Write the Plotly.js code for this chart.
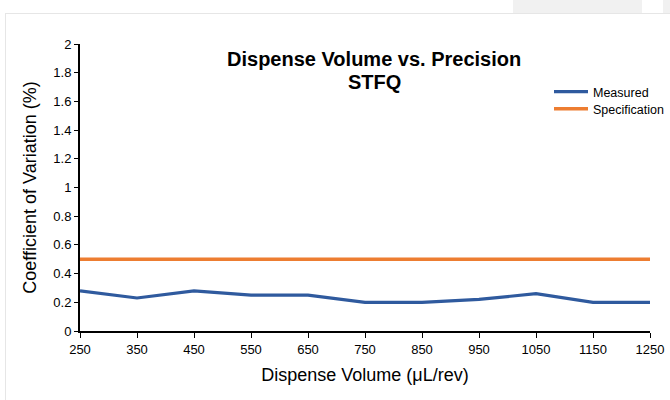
<!DOCTYPE html>
<html>
<head>
<meta charset="utf-8">
<script src="https://cdn.plot.ly/plotly-3.0.1.min.js"></script>
<style>
  html, body { margin: 0; padding: 0; background: #fff; }
  #wrap { position: relative; width: 670px; height: 400px; overflow: hidden; }
  #chart { position: absolute; left: 0; top: 0; width: 670px; height: 400px; }
  .frame-top { position: absolute; left: 5px; top: 13px; width: 665px; height: 0; border-top: 1px solid #e6e6e6; }
  .frame-left { position: absolute; left: 5px; top: 13px; width: 0; height: 387px; border-left: 1px solid #e6e6e6; }
  .tab1 { position: absolute; left: 513px; top: 0; width: 129px; height: 13px; background: #f1f1f1; }
  .tab2 { position: absolute; left: 663px; top: 0; width: 7px; height: 13px; background: #f1f1f1; }
</style>
</head>
<body>
<div id="wrap">
  <div id="chart"></div>
  <div class="frame-top"></div>
  <div class="frame-left"></div>
  <div class="tab1"></div>
  <div class="tab2"></div>
</div>
<script>
const volumes = [250, 350, 450, 550, 650, 750, 850, 950, 1050, 1150, 1250];
const measured = [0.28, 0.23, 0.28, 0.25, 0.25, 0.20, 0.20, 0.22, 0.26, 0.20, 0.20];
const specification = [0.5, 0.5, 0.5, 0.5, 0.5, 0.5, 0.5, 0.5, 0.5, 0.5, 0.5];
const yTicks = [0, 0.2, 0.4, 0.6, 0.8, 1, 1.2, 1.4, 1.6, 1.8, 2];
const yTickLabels = ['0', '0.2', '0.4', '0.6', '0.8', '1', '1.2', '1.4', '1.6', '1.8', '2'];
const titleLine1 = 'Dispense Volume vs. Precision';
const titleLine2 = 'STFQ';

const FONT = 'Liberation Sans, Arial, sans-serif';

const traces = [
  {
    x: volumes, y: measured, name: 'Measured', type: 'scatter', mode: 'lines',
    line: { color: '#2f5a9e', width: 3.2 }, legend: 'legend'
  },
  {
    x: volumes, y: specification, name: 'Specification', type: 'scatter', mode: 'lines',
    line: { color: '#ed7d31', width: 3.5 }, legend: 'legend2'
  }
];

const legendCommon = {
  xref: 'paper', xanchor: 'left', yref: 'paper', yanchor: 'middle',
  font: { family: FONT, size: 12.5, color: '#000' },
  bgcolor: 'rgba(0,0,0,0)',
  itemwidth: 34,
  borderwidth: 0
};

const layout = {
  width: 670, height: 400,
  margin: { l: 80, r: 20, t: 44, b: 69, autoexpand: false },
  paper_bgcolor: '#ffffff',
  plot_bgcolor: '#ffffff',
  font: { family: FONT, color: '#000' },
  title: {
    text: '<b>' + titleLine1 + '</b>',
    font: { family: FONT, size: 20, color: '#000' },
    x: 0.516, xref: 'paper', xanchor: 'center',
    y: 1 - 59 / 400, yref: 'container', yanchor: 'middle'
  },
  annotations: [{
    text: '<b>' + titleLine2 + '</b>',
    font: { family: FONT, size: 20, color: '#000' },
    x: 0.5175, xref: 'paper', xanchor: 'center',
    y: (331 - 82) / 287, yref: 'paper', yanchor: 'middle',
    showarrow: false
  }],
  showlegend: true,
  legend: Object.assign({}, legendCommon, { x: (549 - 80) / 570, y: (331 - 92) / 287 }),
  legend2: Object.assign({}, legendCommon, { x: (549 - 80) / 570, y: (331 - 109) / 287 }),
  xaxis: {
    range: [250, 1250],
    tickmode: 'array', tickvals: volumes, ticktext: volumes.map(String),
    ticks: 'outside', ticklen: 5, tickcolor: '#000', tickwidth: 1,
    showline: true, linecolor: '#000', linewidth: 2,
    showgrid: false, zeroline: false,
    tickfont: { family: FONT, size: 13, color: '#000' },
    title: { text: 'Dispense Volume (μL/rev)', font: { family: FONT, size: 18, color: '#000' }, standoff: 13 }
  },
  yaxis: {
    range: [0, 2],
    tickmode: 'array', tickvals: yTicks, ticktext: yTickLabels,
    ticks: 'outside', ticklen: 4, tickcolor: '#000', tickwidth: 1,
    showline: true, linecolor: '#000', linewidth: 2,
    showgrid: false, zeroline: false,
    tickfont: { family: FONT, size: 13, color: '#000' },
    title: { text: 'Coefficient of Variation (%)', font: { family: FONT, size: 18, color: '#000' }, standoff: 12 }
  }
};

Plotly.newPlot('chart', traces, layout, { displayModeBar: false, staticPlot: true });
</script>
</body>
</html>
